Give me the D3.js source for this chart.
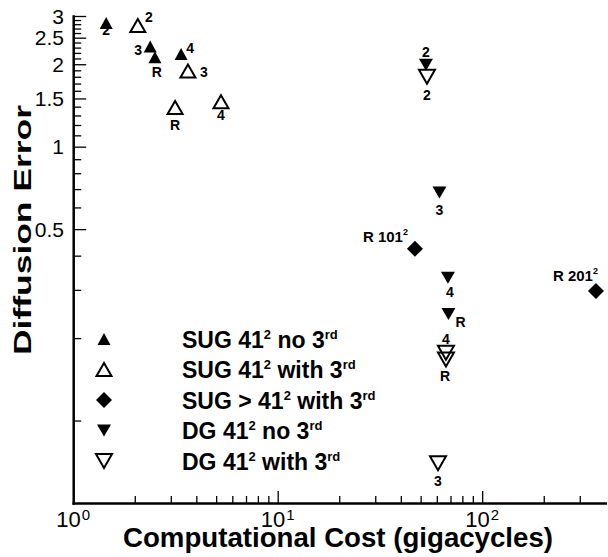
<!DOCTYPE html>
<html>
<head>
<meta charset="utf-8">
<script src="https://cdn.jsdelivr.net/npm/d3@7"></script>
<style>
  body { margin: 0; background: #fff; }
  svg { display: block; font-family: "Liberation Sans", Arial, Helvetica, sans-serif; }
</style>
</head>
<body>
<svg id="main"></svg>
<script>
//--------data----------
const seriesNames = ['SUG 41^2 no 3^rd', 'SUG 41^2 with 3^rd', 'SUG > 41^2 with 3^rd', 'DG 41^2 no 3^rd', 'DG 41^2 with 3^rd'];

// cost in gigacycles, err = diffusion error
const sugNo3 = [
  {run: '2', cost: 1.45, err: 2.83},
  {run: '3', cost: 2.38, err: 2.32},
  {run: 'R', cost: 2.51, err: 2.12},
  {run: '4', cost: 3.37, err: 2.18}
];
const sugWith3 = [
  {run: '2', cost: 2.07, err: 2.77},
  {run: '3', cost: 3.64, err: 1.89},
  {run: 'R', cost: 3.15, err: 1.39},
  {run: '4', cost: 5.28, err: 1.46}
];
const sugFine = [
  {run: 'R 101^2', cost: 46.9, err: 0.424},
  {run: 'R 201^2', cost: 360, err: 0.297}
];
const dgNo3 = [
  {run: '2', cost: 53.1, err: 1.99},
  {run: '3', cost: 61.8, err: 0.680},
  {run: '4', cost: 68.0, err: 0.332},
  {run: 'R', cost: 68.4, err: 0.245}
];
const dgWith3 = [
  {run: '2', cost: 53.7, err: 1.80},
  {run: '4', cost: 66.5, err: 0.177},
  {run: 'R', cost: 66.5, err: 0.167},
  {run: '3', cost: 60.8, err: 0.0698}
];

const xMajor = [1, 10, 100];
const xMajorExp = ['0', '1', '2'];
const yMajor = [0.5, 1, 1.5, 2, 2.5, 3];
const yMajorLabels = ['0.5', '1', '1.5', '2', '2.5', '3'];

//--------code----------
const width = 608, height = 557;
const svg = d3.select('#main').attr('width', width).attr('height', height);

const x = d3.scaleLog().domain([1, 400]).range([73.2, 605.3]);
const y = d3.scaleLog().domain([0.05, 3]).range([503, 16]);

const xMinor = [];
[1, 10, 100].forEach(d => { for (let k = 2; k <= 9; k++) if (d * k < 400) xMinor.push(d * k); });
const yMinor = d3.range(1, 30).map(i => i / 10).filter(v => !yMajor.some(m => Math.abs(m - v) < 1e-9));

// marker shapes
const shapes = [
  {d: tri(13, 12, true), fill: '#000', stroke: 'none', sw: 0},
  {d: tri(15, 13, true), fill: 'none', stroke: '#000', sw: 2},
  {d: 'M0,-8L8,0L0,8L-8,0Z', fill: '#000', stroke: 'none', sw: 0},
  {d: tri(14, 12, false), fill: '#000', stroke: 'none', sw: 0},
  {d: tri(16, 14, false), fill: 'none', stroke: '#000', sw: 2}
];

function tri(w, h, up){
  let a = w/2, b = h/2;
  return up ? `M0,${-b}L${a},${b}L${-a},${b}Z` : `M0,${b}L${a},${-b}L${-a},${-b}Z`;
}

// label offsets [dx, dy(baseline)], keyed by series index and run
const labelOffsets = [
  {'2': [0, 12], '3': [-12, 8], 'R': [2, 20], '4': [9, -1]},
  {'2': [11, -3], '3': [16, 6], 'R': [0, 22], '4': [0, 18]},
  {'R 101^2': [-7, -7], 'R 201^2': [2, -10]},
  {'2': [0, -8], '3': [0, 22], '4': [2, 19], 'R': [12, 13]},
  {'2': [0, 23], '4': [0, -9], 'R': [-1, 21], '3': [0, 23]}
];

function richText(sel, str, supSize, supDy, supDx){
  let parts = str.split(/(\^\w+)/).filter(p => p.length);
  let up = false;
  for (let p of parts){
    if (p[0] === '^'){
      sel.append('tspan').attr('font-size', supSize).attr('dx', supDx || 0).attr('dy', -supDy).text(p.slice(1));
      up = true;
    } else {
      let t = sel.append('tspan').text(p);
      if (up){ t.attr('dy', supDy); up = false; }
    }
  }
}

// axes
const gx = svg.append('g').attr('transform', 'translate(0,503)');
gx.call(d3.axisBottom(x).tickValues(xMinor).tickSize(-7).tickFormat(''))
  .call(g => g.select('.domain').remove());
const gx2 = svg.append('g').attr('transform', 'translate(0,503)');
gx2.call(d3.axisBottom(x).tickValues(xMajor).tickSize(-12).tickSizeOuter(0).tickFormat(''));

const gy = svg.append('g').attr('transform', 'translate(73.2,0)');
gy.call(d3.axisLeft(y).tickValues(yMinor).tickSize(-8).tickFormat(''))
  .call(g => g.select('.domain').remove());
const gy2 = svg.append('g').attr('transform', 'translate(73.2,0)');
gy2.call(d3.axisLeft(y).tickValues(yMajor).tickSize(-13).tickSizeOuter(0).tickFormat(''));

svg.selectAll('.tick line').attr('stroke', '#000').attr('stroke-width', 1.3);
svg.selectAll('.domain').attr('stroke', '#000').attr('stroke-width', 2.5).attr('stroke-linecap', 'square');

// tick labels
xMajor.forEach((v, i) => {
  let t = svg.append('text')
    .attr('x', x(v)).attr('y', 527)
    .attr('text-anchor', 'middle')
    .attr('font-size', 22);
  richText(t, '10^' + xMajorExp[i], 15, 7, 1);
});
svg.selectAll('.ylab')
  .data(yMajor)
  .join('text')
  .attr('class', 'ylab')
  .attr('x', 64)
  .attr('y', d => y(d) + 7.5)
  .attr('text-anchor', 'end')
  .attr('font-size', 21)
  .text((d, i) => yMajorLabels[i]);

// axis titles
svg.append('text')
  .attr('x', 338).attr('y', 547)
  .attr('text-anchor', 'middle')
  .attr('font-size', 27).attr('font-weight', 'bold')
  .attr('textLength', 430).attr('lengthAdjust', 'spacingAndGlyphs')
  .text('Computational Cost (gigacycles)');
svg.append('text')
  .attr('transform', 'translate(31,230) rotate(-90)')
  .attr('text-anchor', 'middle')
  .attr('font-size', 24).attr('font-weight', 'bold')
  .attr('textLength', 250).attr('lengthAdjust', 'spacingAndGlyphs')
  .text('Diffusion Error');

// points
const allSeries = [sugNo3, sugWith3, sugFine, dgNo3, dgWith3];
allSeries.forEach((data, si) => {
  let s = shapes[si];
  svg.append('g')
    .selectAll('path')
    .data(data)
    .join('path')
    .attr('d', s.d)
    .attr('transform', d => `translate(${x(d.cost)},${y(d.err)})`)
    .attr('fill', s.fill)
    .attr('stroke', s.stroke)
    .attr('stroke-width', s.sw)
    .attr('stroke-linejoin', 'miter');
});
allSeries.forEach((data, si) => {
  data.forEach(d => {
    let off = labelOffsets[si][d.run];
    let t = svg.append('text')
      .attr('x', x(d.cost) + off[0])
      .attr('y', y(d.err) + off[1])
      .attr('text-anchor', si === 2 ? 'end' : 'middle')
      .attr('font-size', si === 2 ? 15 : 14)
      .attr('font-weight', 'bold');
    richText(t, d.run, 9, 7);
  });
});

// legend
seriesNames.forEach((name, i) => {
  let ly = 339 + i * 30.5;
  let s = shapes[i];
  svg.append('path')
    .attr('d', s.d)
    .attr('transform', `translate(104,${ly})`)
    .attr('fill', s.fill)
    .attr('stroke', s.stroke)
    .attr('stroke-width', s.sw);
  let t = svg.append('text')
    .attr('x', 182).attr('y', ly + 8.5)
    .attr('font-size', 23).attr('font-weight', 'bold');
  richText(t, name, 13, 9);
});
</script>
</body>
</html>
